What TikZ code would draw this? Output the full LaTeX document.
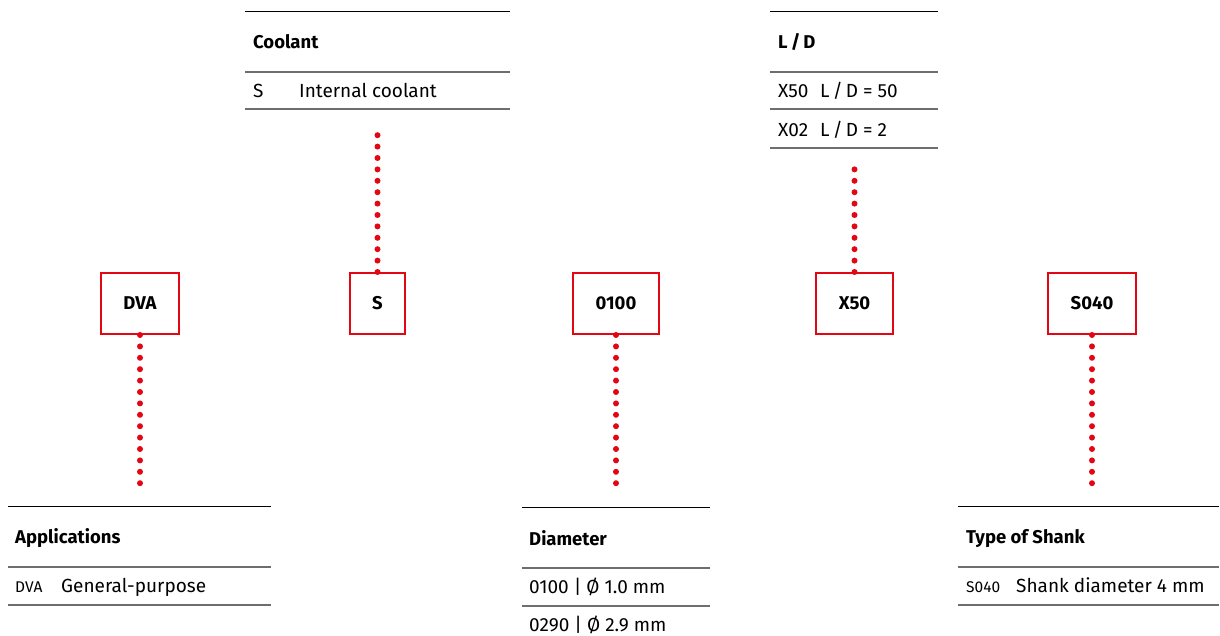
\documentclass[tikz,border=0pt]{standalone}
\usepackage{fontspec}
\setmainfont{Fira Sans}
\definecolor{brandred}{HTML}{E30613}
\definecolor{rulegray}{HTML}{6E6E6E}
\begin{document}
\begin{tikzpicture}[x=1pt,y=-1pt,
  codebox/.style={draw=brandred,line width=2pt,fill=white,minimum height=61pt,inner xsep=22.5pt,
    font=\fontsize{18.5}{22}\selectfont\bfseries,text=black},
  dotline/.style={draw=brandred,line width=6pt,line cap=round,dash pattern=on 0pt off 11.4pt},
  toprule/.style={draw=black,line width=1pt},
  midrule/.style={draw=rulegray,line width=1.5pt},
  head/.style={anchor=base west,inner sep=0pt,font=\fontsize{18.5}{22}\selectfont\bfseries},
  cell/.style={anchor=base west,inner sep=0pt,font=\fontsize{19}{22}\selectfont},
  smallcode/.style={anchor=base west,inner sep=0pt,font=\fontsize{15.5}{18}\selectfont}]
\useasboundingbox (0,0) rectangle (1220,636);

% code boxes
\node[codebox] (dva)  at (140,303.5) {DVA};
\node[codebox] (s)    at (377.5,303.5) {S};
\node[codebox] (dia)  at (616,303.5) {0100};
\node[codebox] (ld)   at (854.5,303.5) {X50};
\node[codebox] (shk)  at (1092,303.5) {S040};

% end points of dotted connectors
\coordinate (dvaend) at (140,484);
\coordinate (send)   at (377.5,130);
\coordinate (diaend) at (616,485);
\coordinate (ldend)  at (854.5,166);
\coordinate (shkend) at (1092,484);

\draw[dotline] (dva.south) -- (dvaend);
\draw[dotline] (s.north) -- (send);
\draw[dotline] (dia.south) -- (diaend);
\draw[dotline] (ld.north) -- (ldend);
\draw[dotline] (shk.south) -- (shkend);

% Coolant table
\draw[toprule] (245,12) -- (510,12);
\draw[midrule] (245,72) -- (510,72);
\draw[midrule] (245,109) -- (510,109);
\node[head] (coolh) at (253,49) {Coolant};
\node[cell] (coolc) at (253,98) {S};
\node[cell] (coolt) at (299,98) {Internal coolant};

% L/D table
\draw[toprule] (770,12) -- (938,12);
\draw[midrule] (770,72) -- (938,72);
\draw[midrule] (770,109) -- (938,109);
\draw[midrule] (770,148) -- (938,148);
\node[head] (ldh) at (778,49) {L\,/\,D};
\node[cell] (ldc1) at (778,98) {X50};
\node[cell] (ldt1) at (820,98) {L\,/\,D = 50};
\node[cell] (ldc2) at (778,137) {X02};
\node[cell] (ldt2) at (820,137) {L\,/\,D = 2};

% Applications table
\draw[toprule] (8,506) -- (271,506);
\draw[midrule] (8,567) -- (271,567);
\draw[midrule] (8,605) -- (271,605);
\node[head] (apph) at (15,543) {Applications};
\node[smallcode] (appc) at (15,592) {DVA};
\node[cell] (appt) at (61,592) {General-purpose};

% Diameter table
\draw[toprule] (522,507) -- (710,507);
\draw[midrule] (522,568) -- (710,568);
\draw[midrule] (522,606) -- (710,606);
\node[head] (diah) at (529,545) {Diameter};
\node[cell] (diat1) at (529,593) {0100 | Ø 1.0 mm};
\node[cell] (diat2) at (529,631) {0290 | Ø 2.9 mm};

% Type of Shank table
\draw[toprule] (958,506) -- (1219,506);
\draw[midrule] (958,567) -- (1219,567);
\draw[midrule] (958,605) -- (1219,605);
\node[head] (shkh) at (966,543) {Type of Shank};
\node[smallcode] (shkc) at (966,592) {S040};
\node[cell] (shkt) at (1016,592) {Shank diameter 4 mm};
\end{tikzpicture}
\end{document}
